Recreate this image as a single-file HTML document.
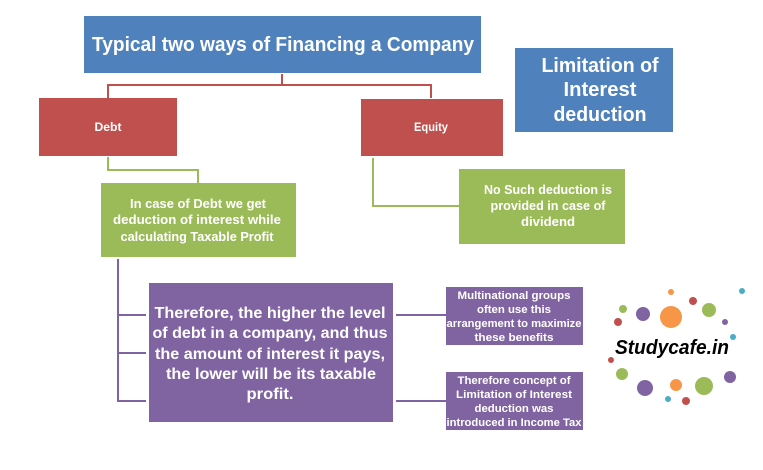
<!DOCTYPE html>
<html><head><meta charset="utf-8"><style>
body{margin:0;background:#fff;}
svg text{font-family:"Liberation Sans",sans-serif;fill:#fff;text-anchor:middle;font-weight:bold;}
</style></head><body>
<svg width="763" height="465" viewBox="0 0 763 465" xmlns="http://www.w3.org/2000/svg">
<polyline points="282,74 282,85 108,85 108,98" fill="none" stroke="#C0504D" stroke-width="2"/>
<polyline points="282,85 431,85 431,98" fill="none" stroke="#C0504D" stroke-width="2"/>
<polyline points="108,157 108,170 198,170 198,183" fill="none" stroke="#9BBB59" stroke-width="2"/>
<polyline points="373,158 373,206 464,206" fill="none" stroke="#9BBB59" stroke-width="2"/>
<polyline points="118,259 118,401 146,401" fill="none" stroke="#8064A2" stroke-width="2"/>
<line x1="118" y1="315" x2="146" y2="315" stroke="#8064A2" stroke-width="2"/>
<line x1="118" y1="353" x2="146" y2="353" stroke="#8064A2" stroke-width="2"/>
<line x1="396" y1="315" x2="446" y2="315" stroke="#8064A2" stroke-width="2"/>
<line x1="396" y1="401" x2="446" y2="401" stroke="#8064A2" stroke-width="2"/>

<rect x="84" y="16" width="397" height="57" fill="#4F81BD"/>
<text x="283" y="51" font-size="20" textLength="382" lengthAdjust="spacingAndGlyphs">Typical two ways of Financing a Company</text>
<rect x="515" y="48" width="158" height="84" fill="#4F81BD"/>
<text x="600" y="72" font-size="20" textLength="117" lengthAdjust="spacingAndGlyphs">Limitation of</text>
<text x="600" y="96" font-size="20" textLength="73" lengthAdjust="spacingAndGlyphs">Interest</text>
<text x="600" y="121" font-size="20" textLength="93" lengthAdjust="spacingAndGlyphs">deduction</text>
<rect x="39" y="98" width="138" height="58" fill="#C0504D"/>
<text x="108" y="131" font-size="12" textLength="27" lengthAdjust="spacingAndGlyphs">Debt</text>
<rect x="361" y="99" width="142" height="57" fill="#C0504D"/>
<text x="431" y="131" font-size="12" textLength="34" lengthAdjust="spacingAndGlyphs">Equity</text>
<rect x="101" y="183" width="195" height="74" fill="#9BBB59"/>
<text x="198" y="208" font-size="13" textLength="136" lengthAdjust="spacingAndGlyphs">In case of Debt we get</text>
<text x="197" y="224" font-size="13" textLength="168" lengthAdjust="spacingAndGlyphs">deduction of interest while</text>
<text x="197" y="241" font-size="13" textLength="153" lengthAdjust="spacingAndGlyphs">calculating Taxable Profit</text>
<rect x="459" y="169" width="166" height="75" fill="#9BBB59"/>
<text x="548" y="194" font-size="13" textLength="128" lengthAdjust="spacingAndGlyphs">No Such deduction is</text>
<text x="548" y="210" font-size="13" textLength="115" lengthAdjust="spacingAndGlyphs">provided in case of</text>
<text x="548" y="226" font-size="13" textLength="54" lengthAdjust="spacingAndGlyphs">dividend</text>
<rect x="149" y="283" width="244" height="139" fill="#8064A2"/>
<text x="270" y="318" font-size="16" textLength="231" lengthAdjust="spacingAndGlyphs">Therefore, the higher the level</text>
<text x="270" y="338" font-size="16" textLength="235" lengthAdjust="spacingAndGlyphs">of debt in a company, and thus</text>
<text x="270" y="359" font-size="16" textLength="230" lengthAdjust="spacingAndGlyphs">the amount of interest  it pays,</text>
<text x="271" y="379" font-size="16" textLength="210" lengthAdjust="spacingAndGlyphs">the lower will  be its taxable</text>
<text x="270" y="399" font-size="16" textLength="47" lengthAdjust="spacingAndGlyphs">profit.</text>
<rect x="446" y="287" width="137" height="58" fill="#8064A2"/>
<text x="514" y="299" font-size="11" textLength="113" lengthAdjust="spacingAndGlyphs">Multinational groups</text>
<text x="514" y="313" font-size="11" textLength="74" lengthAdjust="spacingAndGlyphs">often use this</text>
<text x="514" y="327" font-size="11" textLength="135" lengthAdjust="spacingAndGlyphs">arrangement to maximize</text>
<text x="514" y="341" font-size="11" textLength="79" lengthAdjust="spacingAndGlyphs">these benefits</text>
<rect x="446" y="372" width="137" height="58" fill="#8064A2"/>
<text x="514" y="384" font-size="11" textLength="113" lengthAdjust="spacingAndGlyphs">Therefore concept of</text>
<text x="514" y="398" font-size="11" textLength="116" lengthAdjust="spacingAndGlyphs">Limitation of Interest</text>
<text x="514" y="412" font-size="11" textLength="79" lengthAdjust="spacingAndGlyphs">deduction was</text>
<text x="514" y="426" font-size="11" textLength="135" lengthAdjust="spacingAndGlyphs">introduced in Income Tax</text>

<circle cx="671" cy="292" r="3" fill="#F79646"/>
<circle cx="742" cy="291" r="3" fill="#4BACC6"/>
<circle cx="693" cy="301" r="4" fill="#C0504D"/>
<circle cx="623" cy="309" r="4" fill="#9BBB59"/>
<circle cx="643" cy="314" r="7" fill="#8064A2"/>
<circle cx="671" cy="317" r="11" fill="#F79646"/>
<circle cx="709" cy="310" r="7" fill="#9BBB59"/>
<circle cx="618" cy="322" r="4" fill="#C0504D"/>
<circle cx="725" cy="322" r="3" fill="#8064A2"/>
<circle cx="733" cy="337" r="3" fill="#4BACC6"/>
<circle cx="611" cy="360" r="3" fill="#C0504D"/>
<circle cx="622" cy="374" r="6" fill="#9BBB59"/>
<circle cx="730" cy="377" r="6" fill="#8064A2"/>
<circle cx="645" cy="388" r="8" fill="#8064A2"/>
<circle cx="676" cy="385" r="6" fill="#F79646"/>
<circle cx="704" cy="386" r="9" fill="#9BBB59"/>
<circle cx="668" cy="399" r="3" fill="#4BACC6"/>
<circle cx="686" cy="401" r="4" fill="#C0504D"/>
<text x="672" y="354" font-size="20" font-style="italic" textLength="114" lengthAdjust="spacingAndGlyphs" style="fill:#000">Studycafe.in</text>
</svg>
</body></html>
